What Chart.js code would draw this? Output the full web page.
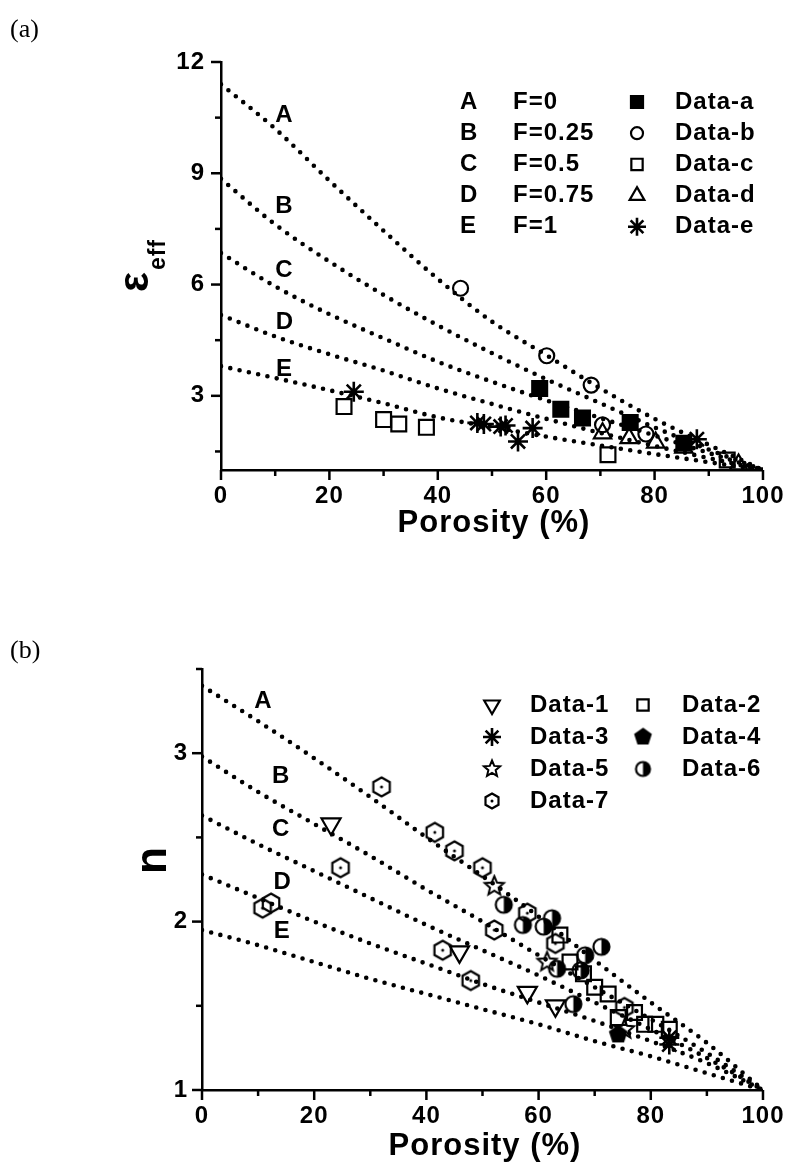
<!DOCTYPE html>
<html>
<head>
<meta charset="utf-8">
<title>Porosity dependence of effective permittivity and refractive index</title>
<script src="https://cdn.jsdelivr.net/npm/chart.js@4.4.1/dist/chart.umd.min.js"></script>
<style>
  html, body { margin: 0; padding: 0; background: #fff; }
  #page { position: relative; width: 795px; height: 1162px; overflow: hidden; }
  #page canvas { position: absolute; left: 0; }
  .panel-label {
    position: absolute;
    left: 10px;
    font-family: "Liberation Serif", "Times New Roman", serif;
    font-size: 26px;
    line-height: 1;
    color: #000;
  }
</style>
</head>
<body>
<div id="page">
  <canvas id="chartA" width="795" height="560" style="top:0px"></canvas>
  <canvas id="chartB" width="795" height="602" style="top:560px"></canvas>
  <div class="panel-label" style="top:16px">(a)</div>
  <div class="panel-label" style="top:637px">(b)</div>
</div>

<script>
// ---------- shared axis values ----------
const porosityGrid = [0, 10, 20, 30, 40, 50, 60, 70, 80, 90, 100];
const xTickValues = [0, 20, 40, 60, 80, 100];
const xMinorTicks = [10, 30, 50, 70, 90];
const curveNames = ['A', 'B', 'C', 'D', 'E'];

// ---------- panel (a): effective permittivity ----------
const epsTickValues = [3, 6, 9, 12];
const epsMinorTicks = [1.5, 4.5, 7.5, 10.5];
const fLabels = ['F=0', 'F=0.25', 'F=0.5', 'F=0.75', 'F=1'];

const epsA = [11.4, 10.2, 8.8, 7.45, 6.15, 5.0, 4.1, 3.2, 2.38, 1.68, 1.0];
const epsB = [8.85, 7.62, 6.62, 5.72, 4.9, 4.15, 3.45, 2.8, 2.15, 1.55, 1.0];
const epsC = [6.85, 5.95, 5.2, 4.55, 3.92, 3.38, 2.88, 2.4, 1.93, 1.46, 1.0];
const epsD = [5.18, 4.6, 4.12, 3.68, 3.2, 2.78, 2.38, 2.0, 1.65, 1.32, 1.0];
const epsE = [3.8, 3.48, 3.15, 2.8, 2.42, 2.16, 1.9, 1.66, 1.43, 1.21, 1.0];

// where the curve letters sit (data coordinates)
const epsLetterX = [11.7, 11.7, 11.7, 11.8, 11.7];
const epsLetterY = [10.57, 8.1, 6.39, 4.99, 3.7];

const dataA_x = [58.8, 62.7, 66.7, 75.5, 85.4];
const dataA_y = [3.2, 2.64, 2.4, 2.28, 1.72];
const dataB_x = [44.2, 60.1, 68.3, 70.4, 78.4];
const dataB_y = [5.9, 4.08, 3.29, 2.22, 1.97];
const dataC_x = [22.7, 30, 32.8, 37.9, 71.4, 93.4];
const dataC_y = [2.71, 2.36, 2.24, 2.15, 1.41, 1.27];
const dataD_x = [70.4, 75.3, 80.2, 85.4, 95.5];
const dataD_y = [1.99, 1.86, 1.74, 1.6, 1.15];
const dataE_x = [24.5, 47.3, 48.5, 51.6, 52.5, 54.8, 57.5, 87.8];
const dataE_y = [3.11, 2.27, 2.24, 2.17, 2.2, 1.77, 2.13, 1.83];
const seriesNamesA = ['Data-a', 'Data-b', 'Data-c', 'Data-d', 'Data-e'];

// ---------- panel (b): refractive index ----------
const nTickValues = [1, 2, 3];
const nMinorTicks = [1.5, 2.5, 3.5];

const nA = [3.4, 3.19, 2.97, 2.74, 2.5, 2.27, 2.03, 1.77, 1.52, 1.28, 1.0];
const nB = [2.98, 2.77, 2.58, 2.39, 2.19, 2.0, 1.8, 1.61, 1.42, 1.22, 1.0];
const nC = [2.63, 2.46, 2.3, 2.14, 1.98, 1.83, 1.68, 1.52, 1.36, 1.19, 1.0];
const nD = [2.28, 2.14, 2.0, 1.87, 1.75, 1.63, 1.52, 1.41, 1.29, 1.16, 1.0];
const nE = [1.95, 1.86, 1.76, 1.66, 1.57, 1.48, 1.39, 1.29, 1.2, 1.1, 1.0];

const nLetterX = [10.95, 14.1, 14.1, 14.4, 14.3];
const nLetterY = [3.31, 2.86, 2.55, 2.23, 1.94];

const d1_x = [23, 45.9, 58, 63];
const d1_y = [2.58, 1.82, 1.58, 1.5];
const d2_x = [63.8, 65.6, 68, 70, 72.4, 74.2, 77.1, 78.9, 80.9, 83.3];
const d2_y = [1.92, 1.76, 1.69, 1.61, 1.57, 1.43, 1.46, 1.39, 1.39, 1.36];
const d3_x = [83.3, 83.3];
const d3_y = [1.31, 1.27];
const d4_x = [74.2];
const d4_y = [1.33];
const d5_x = [52.1, 61.5, 75.3];
const d5_y = [2.21, 1.76, 1.36];
const d6_x = [53.8, 57.2, 60.9, 62.4, 63.3, 67.5, 68.3, 71.2, 66.2];
const d6_y = [2.1, 1.98, 1.97, 2.02, 1.72, 1.71, 1.8, 1.85, 1.51];
const d7_x = [10.8, 12.3, 24.7, 32, 41.5, 45, 50, 52.1, 58, 63, 42.9, 47.9, 75.3];
const d7_y = [2.08, 2.11, 2.32, 2.8, 2.53, 2.42, 2.32, 1.95, 2.05, 1.87, 1.83, 1.65, 1.49];
const seriesNamesB = ['Data-1', 'Data-2', 'Data-3', 'Data-4', 'Data-5', 'Data-6', 'Data-7'];

// ---------- styling ----------
const FONT = '"Liberation Sans", Arial, sans-serif';
Chart.defaults.font.family = FONT;
Chart.defaults.color = '#000';

// Custom marker shapes that Chart.js has no built-in style for
function makeMarker(kind, r) {
    const size = Math.ceil(r * 2 + 5);
    const c = document.createElement('canvas');
    c.width = size;
    c.height = size;
    const ctx = c.getContext('2d');
    const m = size / 2;
    ctx.strokeStyle = '#000';
    ctx.fillStyle = '#000';
    ctx.lineWidth = 2.2;
    ctx.lineJoin = 'miter';
    ctx.beginPath();
    if (kind === 'hexagon') {
        for (let i = 0; i < 6; i++) {
            const a = -Math.PI / 2 + i * Math.PI / 3;
            const px = m + r * Math.cos(a), py = m + r * Math.sin(a);
            i === 0 ? ctx.moveTo(px, py) : ctx.lineTo(px, py);
        }
        ctx.closePath();
        ctx.stroke();
        ctx.beginPath();
        ctx.arc(m, m, 1.5, 0, Math.PI * 2);
        ctx.fill();
    } else if (kind === 'pentagon') {
        for (let i = 0; i < 5; i++) {
            const a = -Math.PI / 2 + i * 2 * Math.PI / 5;
            const px = m + r * Math.cos(a), py = m + r * Math.sin(a);
            i === 0 ? ctx.moveTo(px, py) : ctx.lineTo(px, py);
        }
        ctx.closePath();
        ctx.fill();
        ctx.stroke();
    } else if (kind === 'star5') {
        for (let i = 0; i < 10; i++) {
            const a = -Math.PI / 2 + i * Math.PI / 5;
            const rr = i % 2 === 0 ? r : r * 0.45;
            const px = m + rr * Math.cos(a), py = m + rr * Math.sin(a);
            i === 0 ? ctx.moveTo(px, py) : ctx.lineTo(px, py);
        }
        ctx.closePath();
        ctx.lineWidth = 2;
        ctx.stroke();
    } else if (kind === 'half') {
        ctx.arc(m, m, r, -Math.PI / 2, Math.PI / 2);
        ctx.closePath();
        ctx.fill();
        ctx.beginPath();
        ctx.arc(m, m, r, 0, Math.PI * 2);
        ctx.stroke();
    }
    return c;
}

const hollow = 'rgba(0,0,0,0)';

// marker styles: plot size and legend size
const markersA = [
    { pointStyle: 'rect', radius: 10.5, legendRadius: 8.5, fill: '#000' },
    { pointStyle: 'circle', radius: 7.5, legendRadius: 6, fill: hollow },
    { pointStyle: 'rect', radius: 10.5, legendRadius: 8, fill: hollow },
    { pointStyle: 'triangle', radius: 10, legendRadius: 8.5, fill: hollow },
    { pointStyle: 'star', radius: 10, legendRadius: 9, fill: hollow, width: 2.6 }
];
const markersB = [
    { pointStyle: 'triangle', rotation: 180, radius: 11, legendRadius: 9, fill: hollow },
    { pointStyle: 'rect', radius: 10.5, legendRadius: 8, fill: hollow },
    { pointStyle: 'star', radius: 10, legendRadius: 9, fill: hollow, width: 2.6 },
    { pointStyle: makeMarker('pentagon', 8.5), legendStyle: makeMarker('pentagon', 8), radius: 9, fill: '#000' },
    { pointStyle: makeMarker('star5', 10), legendStyle: makeMarker('star5', 8.5), radius: 10, fill: '#000' },
    { pointStyle: makeMarker('half', 8), legendStyle: makeMarker('half', 7), radius: 9, fill: '#000' },
    { pointStyle: makeMarker('hexagon', 9.5), legendStyle: makeMarker('hexagon', 7.5), radius: 10, fill: '#000' }
];

function toPoints(xs, ys) {
    return xs.map((x, i) => ({ x: x, y: ys[i] }));
}

function curveSet(values) {
    return {
        type: 'line',
        data: toPoints(porosityGrid, values),
        borderColor: '#000',
        borderWidth: 4.6,
        borderDash: [0, 9.5],
        borderCapStyle: 'round',
        cubicInterpolationMode: 'monotone',
        pointRadius: 0,
        fill: false,
        order: 5
    };
}

function scatterSet(label, xs, ys, marker) {
    return {
        type: 'scatter',
        label: label,
        data: toPoints(xs, ys),
        pointStyle: marker.pointStyle,
        pointRadius: marker.radius,
        pointRotation: marker.rotation || 0,
        pointBackgroundColor: marker.fill,
        pointBorderColor: '#000',
        pointBorderWidth: marker.width || 2.2,
        showLine: false,
        order: 0
    };
}

// ---------- decorations drawn on top of each chart ----------
const decorations = {
    chartA: {
        yMajor: epsTickValues, yMinor: epsMinorTicks,
        letterX: epsLetterX, letterY: epsLetterY,
        xTitle: { text: 'Porosity (%)', x: 494, y: 523 },
        yTitle: { main: '\u03b5', sub: 'eff', x: 148, y: 266, mainSize: 42, subSize: 23, subDrop: 17 },
        legend: function (ctx) {
            for (let i = 0; i < 5; i++) {
                const y = 102 + 31.2 * i;
                ctx.textAlign = 'left';
                ctx.fillText(curveNames[i], 460, y);
                ctx.fillText(fLabels[i], 513, y);
                drawLegendMarker(ctx, markersA[i], 637, y);
                ctx.fillText(seriesNamesA[i], 675, y);
            }
        }
    },
    chartB: {
        yMajor: nTickValues, yMinor: nMinorTicks,
        letterX: nLetterX, letterY: nLetterY,
        xTitle: { text: 'Porosity (%)', x: 485, y: 586 },
        yTitle: { main: 'n', sub: '', x: 166, y: 300, mainSize: 44, subSize: 22, subDrop: 0 },
        legend: function (ctx) {
            const cols = [{ sym: 492, text: 530 }, { sym: 643, text: 682 }];
            for (let i = 0; i < seriesNamesB.length; i++) {
                const col = cols[i % 2];
                const y = 145 + 32 * Math.floor(i / 2);
                ctx.textAlign = 'left';
                drawLegendMarker(ctx, markersB[i], col.sym, y);
                ctx.fillText(seriesNamesB[i], col.text, y);
            }
        }
    }
};

function drawLegendMarker(ctx, marker, x, y) {
    ctx.save();
    ctx.strokeStyle = '#000';
    ctx.fillStyle = marker.fill;
    ctx.lineWidth = marker.width || 2.2;
    Chart.helpers.drawPoint(ctx, {
        pointStyle: marker.legendStyle || marker.pointStyle,
        radius: marker.legendRadius || marker.radius,
        rotation: marker.rotation || 0,
        borderWidth: marker.width || 2.2
    }, x, y);
    ctx.restore();
}

const decorPlugin = {
    id: 'decor',
    beforeDraw(chart) {
        chart.ctx.letterSpacing = '1px';
    },
    afterDraw(chart) {
        const deco = decorations[chart.canvas.id];
        if (!deco) return;
        const ctx = chart.ctx;
        const xs = chart.scales.x;
        const ys = chart.scales.y;
        const area = chart.chartArea;

        ctx.save();
        ctx.strokeStyle = '#000';
        ctx.fillStyle = '#000';
        ctx.lineWidth = 2.5;
        ctx.lineCap = 'butt';

        // major and minor tick marks, pointing outward
        const tick = (px, py, dx, dy) => {
            ctx.beginPath();
            ctx.moveTo(px, py);
            ctx.lineTo(px + dx, py + dy);
            ctx.stroke();
        };
        xTickValues.forEach(v => tick(xs.getPixelForValue(v), area.bottom, 0, 10));
        xMinorTicks.forEach(v => tick(xs.getPixelForValue(v), area.bottom, 0, 6));
        deco.yMajor.forEach(v => tick(area.left, ys.getPixelForValue(v), -10, 0));
        deco.yMinor.forEach(v => tick(area.left, ys.getPixelForValue(v), -6, 0));

        ctx.letterSpacing = '1px';

        // curve letters A..E
        ctx.font = 'bold 24px ' + FONT;
        ctx.textAlign = 'center';
        ctx.textBaseline = 'middle';
        curveNames.forEach((name, i) => {
            ctx.fillText(name, xs.getPixelForValue(deco.letterX[i]), ys.getPixelForValue(deco.letterY[i]));
        });

        // x axis title
        ctx.font = 'bold 31px ' + FONT;
        ctx.fillText(deco.xTitle.text, deco.xTitle.x, deco.xTitle.y);

        // rotated y axis title with optional subscript
        const t = deco.yTitle;
        ctx.save();
        ctx.translate(t.x, t.y);
        ctx.rotate(-Math.PI / 2);
        ctx.textAlign = 'left';
        ctx.textBaseline = 'alphabetic';
        ctx.font = 'bold ' + t.mainSize + 'px ' + FONT;
        const wMain = ctx.measureText(t.main).width;
        ctx.font = 'bold ' + t.subSize + 'px ' + FONT;
        const wSub = t.sub ? ctx.measureText(t.sub).width : 0;
        const start = -(wMain + wSub) / 2;
        ctx.font = 'bold ' + t.mainSize + 'px ' + FONT;
        ctx.fillText(t.main, start, 0);
        if (t.sub) {
            ctx.font = 'bold ' + t.subSize + 'px ' + FONT;
            ctx.fillText(t.sub, start + wMain + 1, t.subDrop);
        }
        ctx.restore();

        // legend block
        ctx.font = 'bold 24px ' + FONT;
        ctx.textBaseline = 'middle';
        deco.legend(ctx);

        ctx.restore();
    }
};

function buildOptions(yMin, yMax, yTicks, layoutPadding, yLabelPad) {
    return {
        responsive: false,
        animation: false,
        devicePixelRatio: 1,
        layout: { padding: layoutPadding },
        plugins: {
            legend: { display: false },
            tooltip: { enabled: false }
        },
        scales: {
            x: {
                type: 'linear',
                min: 0,
                max: 100,
                afterBuildTicks: scale => { scale.ticks = xTickValues.map(v => ({ value: v })); },
                afterFit: scale => { scale.height = 60; },
                grid: { display: false, drawTicks: false },
                border: { display: true, color: '#000', width: 2.5 },
                ticks: {
                    padding: 12,
                    maxRotation: 0,
                    font: { size: 24, weight: 'bold' },
                    callback: v => String(v)
                }
            },
            y: {
                type: 'linear',
                min: yMin,
                max: yMax,
                afterBuildTicks: scale => { scale.ticks = yTicks.map(v => ({ value: v })); },
                afterFit: scale => { scale.width = 80; },
                grid: { display: false, drawTicks: false },
                border: { display: true, color: '#000', width: 2.5 },
                ticks: {
                    padding: yLabelPad,
                    font: { size: 24, weight: 'bold' },
                    callback: v => String(v)
                }
            }
        }
    };
}

function initCharts() {
    // panel (a)
    const datasetsA = [
        curveSet(epsA), curveSet(epsB), curveSet(epsC), curveSet(epsD), curveSet(epsE),
        scatterSet(seriesNamesA[0], dataA_x, dataA_y, markersA[0]),
        scatterSet(seriesNamesA[1], dataB_x, dataB_y, markersA[1]),
        scatterSet(seriesNamesA[2], dataC_x, dataC_y, markersA[2]),
        scatterSet(seriesNamesA[3], dataD_x, dataD_y, markersA[3]),
        scatterSet(seriesNamesA[4], dataE_x, dataE_y, markersA[4])
    ];
    new Chart(document.getElementById('chartA'), {
        type: 'scatter',
        data: { datasets: datasetsA },
        options: buildOptions(1, 12, epsTickValues, { left: 141, right: 27, top: 62, bottom: 30 }, 16),
        plugins: [decorPlugin]
    });

    // panel (b)
    const seriesB = [[d1_x, d1_y], [d2_x, d2_y], [d3_x, d3_y], [d4_x, d4_y], [d5_x, d5_y], [d6_x, d6_y], [d7_x, d7_y]];
    const datasetsB = [curveSet(nA), curveSet(nB), curveSet(nC), curveSet(nD), curveSet(nE)];
    seriesB.forEach((s, i) => datasetsB.push(scatterSet(seriesNamesB[i], s[0], s[1], markersB[i])));
    new Chart(document.getElementById('chartB'), {
        type: 'scatter',
        data: { datasets: datasetsB },
        options: buildOptions(1, 3.5, nTickValues, { left: 122, right: 27, top: 109, bottom: 12 }, 14),
        plugins: [decorPlugin]
    });
}

document.addEventListener('DOMContentLoaded', initCharts);
</script>
</body>
</html>
